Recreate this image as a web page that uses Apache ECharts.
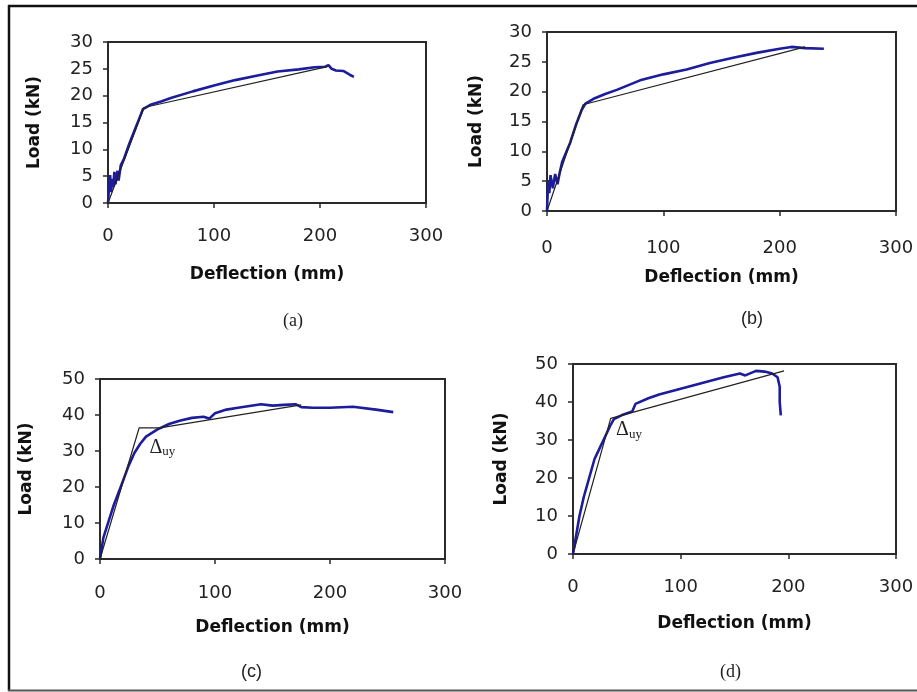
<!DOCTYPE html>
<html>
<head>
<meta charset="utf-8">
<script src="https://cdn.jsdelivr.net/npm/echarts@6/dist/echarts.min.js"></script>
<style>
html,body{margin:0;padding:0;background:#fff;}
#c{width:917px;height:692px;}
</style>
</head>
<body>
<div id="c"></div>
<script>
// ---- Data (deflection in mm, load in kN) ----
var panelLabels = ['(a)', '(b)', '(c)', '(d)'];
var xTicks = [0, 100, 200, 300];

// (a)
var aTestDefl = [0, 1, 2, 3, 4, 5, 6, 7, 9, 10, 12, 15, 20, 25, 30, 33, 40, 50, 60, 80, 100, 120, 140, 160, 180, 195, 205, 208, 211, 215, 222, 228, 232];
var aTestLoad = [0, 3, 5.2, 2, 4.5, 3, 5.8, 3.5, 6, 4.2, 7, 8.2, 11, 13.5, 16, 17.5, 18.3, 18.9, 19.6, 20.8, 21.9, 22.9, 23.7, 24.5, 24.9, 25.3, 25.4, 25.7, 25.0, 24.7, 24.6, 23.9, 23.5];
var aIdealDefl = [0, 34, 207];
var aIdealLoad = [0, 17.8, 25.4];

// (b)
var bTestDefl = [0, 1, 2, 3, 5, 7, 9, 11, 13, 20, 25, 30, 33, 40, 50, 60, 80, 100, 120, 140, 160, 180, 200, 210, 222, 238];
var bTestLoad = [0, 5.2, 3, 6, 3.8, 6.2, 4.5, 6.5, 8.2, 11.5, 14.5, 17, 18, 18.8, 19.6, 20.3, 21.9, 22.9, 23.7, 24.8, 25.7, 26.5, 27.2, 27.5, 27.3, 27.2];
var bIdealDefl = [0, 31, 222];
var bIdealLoad = [0, 17.8, 27.5];

// (c)
var cTestDefl = [0, 3, 8, 12, 18, 25, 30, 35, 40, 50, 60, 70, 80, 90, 95, 100, 110, 120, 130, 140, 150, 160, 170, 175, 185, 200, 220, 240, 255];
var cTestLoad = [0, 6, 11, 15, 20, 26, 29.5, 32, 34, 36, 37.5, 38.5, 39.2, 39.5, 39, 40.5, 41.5, 42, 42.5, 43, 42.6, 42.8, 43, 42.2, 42, 42, 42.3, 41.5, 40.8];
var cIdealDefl = [0, 34, 52, 175];
var cIdealLoad = [0, 36.4, 36.4, 42.8];

// (d)
var dTestDefl = [0, 3, 6, 10, 15, 20, 25, 30, 35, 38, 45, 55, 58, 70, 80, 100, 120, 140, 155, 160, 170, 178, 185, 190, 192, 192, 193];
var dTestLoad = [0, 5, 10, 15, 20, 25, 28, 31, 34, 35.5, 36.5, 37.5, 39.5, 41, 42, 43.5, 45, 46.5, 47.5, 47, 48.2, 48, 47.5, 46.5, 44, 40, 36.5];
var dIdealDefl = [0, 35, 196];
var dIdealLoad = [0, 35.7, 48.2];

// ---- helpers ----
function pairs(xs, ys) { return xs.map(function (x, i) { return [x, ys[i]]; }); }

var TICK_FONT = 'DejaVu Sans';
var AXIS_COLOR = '#2a2a2a';
var BLUE = '#1c1c9c';

var panels = [
  {grid: {left: 108, top: 42, width: 318, height: 161}, ymax: 30, yint: 5, xgap: 63, ygap: 65, lblMargin: 24,
   test: pairs(aTestDefl, aTestLoad), ideal: pairs(aIdealDefl, aIdealLoad), ann: null},
  {grid: {left: 547, top: 32, width: 349, height: 179}, ymax: 30, yint: 5, xgap: 58, ygap: 62, lblMargin: 28,
   test: pairs(bTestDefl, bTestLoad), ideal: pairs(bIdealDefl, bIdealLoad), ann: null},
  {grid: {left: 100, top: 379, width: 345, height: 180}, ymax: 50, yint: 10, xgap: 60, ygap: 65, lblMargin: 25,
   test: pairs(cTestDefl, cTestLoad), ideal: pairs(cIdealDefl, cIdealLoad), ann: [43, 31]},
  {grid: {left: 573, top: 364, width: 323, height: 190}, ymax: 50, yint: 10, xgap: 61, ygap: 63, lblMargin: 24,
   test: pairs(dTestDefl, dTestLoad), ideal: pairs(dIdealDefl, dIdealLoad), ann: [40, 32.6]}
];

var grids = [], xAxes = [], yAxes = [], series = [];
panels.forEach(function (p, i) {
  grids.push(Object.assign({show: true, borderColor: AXIS_COLOR, borderWidth: 2, backgroundColor: '#fff'}, p.grid));
  xAxes.push({
    type: 'value', gridIndex: i, min: xTicks[0], max: xTicks[xTicks.length - 1], interval: 100,
    name: 'Deflection (mm)', nameLocation: 'middle', nameGap: p.xgap,
    nameTextStyle: {fontFamily: TICK_FONT, fontWeight: 'bold', fontSize: 17, color: '#111'},
    axisLine: {show: true, lineStyle: {color: AXIS_COLOR, width: 2}},
    axisTick: {show: true, length: 5, lineStyle: {color: AXIS_COLOR, width: 1.5}},
    axisLabel: {fontFamily: TICK_FONT, fontSize: 18, color: '#222', margin: p.lblMargin},
    splitLine: {show: false}
  });
  yAxes.push({
    type: 'value', gridIndex: i, min: 0, max: p.ymax, interval: p.yint,
    name: 'Load (kN)', nameLocation: 'middle', nameGap: p.ygap, nameRotate: 90,
    nameTextStyle: {fontFamily: TICK_FONT, fontWeight: 'bold', fontSize: 17, color: '#111'},
    axisLine: {show: true, lineStyle: {color: AXIS_COLOR, width: 2}},
    axisTick: {show: true, length: 5, lineStyle: {color: AXIS_COLOR, width: 1.5}},
    axisLabel: {fontFamily: TICK_FONT, fontSize: 18, color: '#222', margin: 15},
    splitLine: {show: false}
  });
  series.push({
    type: 'line', xAxisIndex: i, yAxisIndex: i, data: p.ideal, symbol: 'none',
    lineStyle: {color: '#222', width: 1.2}, z: 3, silent: true,
    markPoint: p.ann ? {
      symbol: 'circle', symbolSize: 0, silent: true,
      data: [{coord: p.ann, label: {
        show: true, position: 'right', distance: 0,
        formatter: '{d|Δ}{s|uy}',
        rich: {
          d: {fontFamily: 'Liberation Serif', fontSize: 20, color: '#222'},
          s: {fontFamily: 'Liberation Serif', fontSize: 13, color: '#222', verticalAlign: 'bottom', padding: [9, 0, 0, 0]}
        }
      }}]
    } : undefined
  });
  series.push({
    type: 'line', xAxisIndex: i, yAxisIndex: i, data: p.test, symbol: 'none',
    lineStyle: {color: BLUE, width: 2.6}, z: 2, silent: true
  });
});

var captions = [
  {text: '(a)', x: 283, y: 312, font: 'Liberation Serif'},
  {text: '(b)', x: 741, y: 310, font: 'Liberation Sans'},
  {text: '(c)', x: 241, y: 663, font: 'Liberation Sans'},
  {text: '(d)', x: 720, y: 663, font: 'Liberation Serif'}
];

var graphics = [
  {type: 'line', shape: {x1: 8, y1: 6, x2: 917, y2: 6}, style: {stroke: '#111', lineWidth: 2.5}},
  {type: 'line', shape: {x1: 9, y1: 5, x2: 9, y2: 691}, style: {stroke: '#111', lineWidth: 2.5}},
  {type: 'line', shape: {x1: 8, y1: 690.5, x2: 917, y2: 690.5}, style: {stroke: '#555', lineWidth: 2}}
];
captions.forEach(function (c) {
  graphics.push({type: 'text', left: c.x, top: c.y, style: {
    text: c.text, font: '18px "' + c.font + '"', fill: '#222', textAlign: 'center', textVerticalAlign: 'middle'
  }});
});

var chart = echarts.init(document.getElementById('c'), null, {renderer: 'canvas'});
chart.setOption({
  animation: false,
  backgroundColor: '#fff',
  grid: grids,
  xAxis: xAxes,
  yAxis: yAxes,
  series: series,
  graphic: graphics
});
</script>
</body>
</html>
